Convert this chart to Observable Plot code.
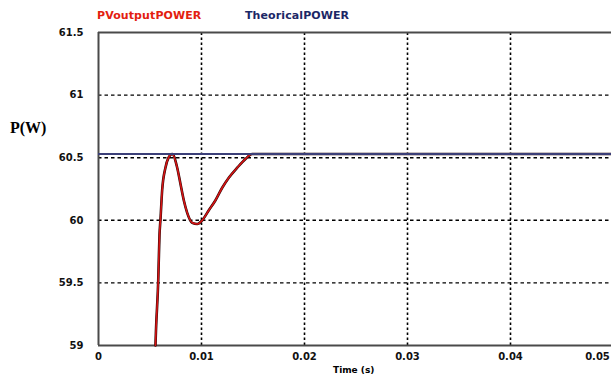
<!DOCTYPE html>
<html>
<head>
<meta charset="utf-8">
<script src="https://cdn.jsdelivr.net/npm/d3@7"></script>
<script src="https://cdn.jsdelivr.net/npm/@observablehq/plot@0.6"></script>
<style>
  body { margin: 0; background: #fff; }
  #wrap { position: relative; width: 611px; height: 380px; overflow: hidden; background: #fff; }
  #wrap svg { position: absolute; left: 0; top: 0; }
  .lbl { position: absolute; white-space: nowrap; font-family: "DejaVu Sans", sans-serif; font-weight: bold; }
  .leg { top: 9px; font-size: 11px; letter-spacing: 0.1px; }
  .ylab { left: 10px; top: 119px; font: bold 16px "Liberation Serif", serif; }
  .xlab { left: 333px; top: 365px; font-size: 9px; }
</style>
</head>
<body>
<div id="wrap">
  <div class="lbl leg" style="left:97px;color:#e3200f">PVoutputPOWER</div>
  <div class="lbl leg" style="left:245px;color:#1c2766">TheoricalPOWER</div>
  <div class="lbl ylab">P(W)</div>
  <div class="lbl xlab">Time (s)</div>
</div>
<script>
// PV output power transient (seconds, watts)
const timeS   = [0.00553, 0.00558, 0.0058, 0.00592, 0.00602, 0.00618, 0.0065, 0.0068, 0.00716, 0.00764, 0.00796, 0.00828, 0.00861, 0.0091, 0.00958, 0.01007, 0.01071, 0.01136, 0.01201, 0.01265, 0.01347, 0.01427, 0.01492, 0.05];
const pvPower = [59.0,    59.12,   59.52,  59.88,   60.01,   60.24,   60.42,  60.50,  60.53,   60.42,   60.29,   60.16,   60.06,   59.98,  59.97,   60.0,    60.08,   60.16,   60.26,   60.34,   60.42,   60.49,   60.53,   60.53];
// theoretical maximum power (W)
const theoricalPower = 60.53;
const xTicks = [0, 0.01, 0.02, 0.03, 0.04, 0.05];
const yTicks = [59, 59.5, 60, 60.5, 61, 61.5];

const pv = timeS.map((t, i) => ({t, p: pvPower[i]}));
const gridX = xTicks.slice(1, -1);
const gridY = yTicks.slice(1, -1);
const lastX = xTicks[xTicks.length - 1];

const chart = Plot.plot({
  width: 611,
  height: 380,
  marginLeft: 98,
  marginTop: 32,
  marginBottom: 35,
  marginRight: 0,
  style: {fontFamily: "DejaVu Sans, sans-serif", fontWeight: "bold", fontSize: "10px", background: "transparent"},
  x: {domain: [0, 0.05], range: [98, 613]},
  y: {domain: [59, 61.5], range: [345, 32]},
  marks: [
    Plot.ruleX(gridX, {y1: 59, y2: 61.5, stroke: "#000", strokeWidth: 1.6, strokeDasharray: "2.5,2.5"}),
    Plot.ruleY(gridY, {x1: 0, x2: 0.05, stroke: "#000", strokeWidth: 1.4, strokeDasharray: "3.5,3"}),
    Plot.ruleY([59, 61.5], {x1: 0, x2: 0.05, stroke: "#4a4a4a", strokeWidth: 2}),
    Plot.ruleX([0], {y1: 59, y2: 61.5, stroke: "#4a4a4a", strokeWidth: 2}),
    Plot.line(pv, {x: "t", y: "p", stroke: "#2a0505", strokeWidth: 2.6, curve: "monotone-x"}),
    Plot.line(pv, {x: "t", y: "p", stroke: "#d41414", strokeWidth: 1.6, curve: "monotone-x"}),
    Plot.ruleY([theoricalPower], {x1: 0, x2: 0.05, stroke: "#3b3f78", strokeWidth: 2}),
    Plot.axisX(xTicks.slice(0, -1), {tickSize: 0, tickPadding: 7, label: null, tickFormat: d => String(d), fill: "#111"}),
    // the last tick label sits at the right edge and is pulled inward
    Plot.axisX([lastX], {tickSize: 0, tickPadding: 7, label: null, tickFormat: d => String(d), fill: "#111", dx: -16}),
    Plot.axisY(yTicks, {tickSize: 0, tickPadding: 15, label: null, tickFormat: d => String(d), fill: "#111"})
  ]
});
document.getElementById("wrap").prepend(chart);
</script>
</body>
</html>
